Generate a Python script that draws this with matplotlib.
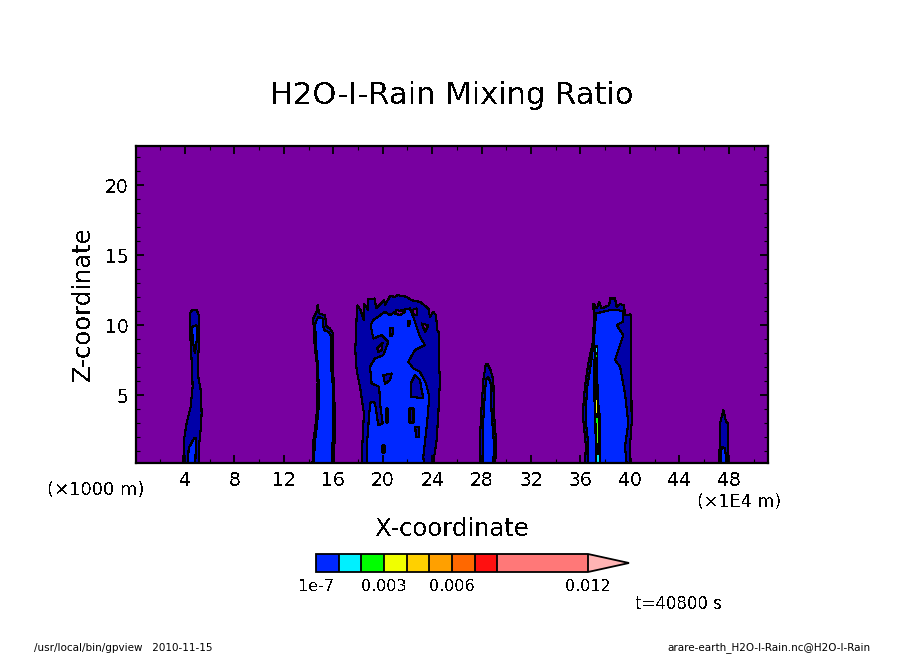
import matplotlib
matplotlib.use("Agg")
import matplotlib.pyplot as plt
from matplotlib.colors import ListedColormap, BoundaryNorm
from matplotlib.cm import ScalarMappable

plt.rcParams['font.family'] = 'DejaVu Sans'
plt.rcParams['text.antialiased'] = False

# contour outlines: x in 1E4 m, z in km
t1_outer_x = [3.87, 3.92, 4.13, 4.46, 4.62, 4.57, 4.46, 4.40, 4.59, 4.94, 5.13, 5.16, 5.05, 5.08, 5.27, 5.35, 5.27, 5.13, 5.16]
t1_outer_z = [0.14, 1.78, 2.97, 4.16, 5.59, 7.02, 8.69, 10.83, 11.07, 11.07, 10.71, 8.92, 7.50, 6.31, 5.35, 3.69, 2.50, 1.30, 0.14]
t1_low_x = [4.24, 4.30, 4.73, 4.89, 4.84]
t1_low_z = [0.14, 1.19, 1.90, 1.90, 0.14]
t1_up_x = [4.59, 4.94, 4.99, 4.81, 4.62]
t1_up_z = [9.88, 9.99, 9.16, 7.97, 8.92]

t2_outer_x = [14.32, 14.38, 14.54, 14.70, 14.73, 14.65, 14.49, 14.38, 14.65, 14.73, 14.86, 15.32, 15.46, 15.73, 16.00, 15.94, 16.08, 16.13, 16.05]
t2_outer_z = [0.14, 1.66, 2.62, 4.05, 5.95, 7.38, 8.57, 10.47, 10.95, 11.43, 10.83, 10.71, 9.88, 9.76, 9.40, 7.38, 5.24, 2.62, 0.14]
t2_inner_x = [14.43, 14.51, 14.65, 14.81, 14.81, 14.73, 14.59, 14.54, 14.78, 15.13, 15.24, 15.59, 15.86, 15.78, 15.94, 16.00, 15.86]
t2_inner_z = [0.14, 1.66, 2.62, 4.05, 5.95, 7.38, 8.57, 10.12, 10.59, 10.47, 9.64, 9.52, 9.16, 7.38, 5.95, 2.62, 0.14]

t3_outer_x = [18.29, 18.37, 18.48, 18.16, 17.89, 17.78, 17.89, 17.94, 18.21, 18.48, 18.48, 18.83, 18.81, 19.37, 19.45, 20.13, 20.18, 20.59, 20.99, 21.18, 21.93, 22.34, 23.01, 23.69, 23.82, 24.09, 24.31, 24.41, 24.58, 24.52, 24.63, 24.50, 24.36, 24.09]
t3_outer_z = [0.14, 1.78, 3.69, 5.59, 6.78, 8.21, 10.59, 11.42, 11.07, 10.35, 11.54, 11.07, 11.83, 11.90, 11.19, 11.78, 11.42, 12.07, 12.02, 12.14, 12.02, 11.78, 11.66, 11.19, 10.59, 10.95, 10.71, 9.64, 9.40, 7.73, 6.07, 3.69, 1.78, 0.14]
t3_inner_x = [18.70, 18.75, 18.91, 19.02, 19.37, 19.64, 20.00, 19.78, 19.72, 19.10, 18.97, 19.37, 20.05, 20.45, 19.91, 19.24, 19.02, 19.24, 20.18, 20.59, 20.99, 22.20, 22.47, 23.01, 23.42, 22.61, 22.07, 22.47, 23.01, 23.50, 23.77, 23.61, 23.28, 23.34]
t3_inner_z = [0.14, 1.78, 3.69, 4.52, 4.45, 2.85, 2.97, 4.40, 5.59, 5.83, 7.02, 7.61, 7.85, 8.80, 9.28, 9.04, 9.99, 10.35, 10.95, 10.71, 10.95, 11.19, 10.59, 9.16, 8.57, 8.21, 7.38, 6.90, 6.66, 5.83, 4.88, 3.21, 0.59, 0.14]

t3_holes = [
    ([20.05, 20.72, 20.59, 20.18], [6.42, 6.54, 6.07, 5.78]),
    ([22.61, 23.01, 23.28, 22.26, 22.26], [6.42, 6.07, 4.76, 4.88, 5.83]),
    ([20.23, 20.37, 20.37, 20.23], [4.04, 4.04, 3.09, 3.09]),
    ([22.12, 22.47, 22.47, 22.12], [4.04, 4.04, 3.09, 3.09]),
    ([22.63, 22.96, 22.90, 22.69], [2.73, 2.73, 1.97, 1.97]),
    ([20.59, 20.85, 20.77, 20.61], [9.76, 9.76, 9.23, 9.23]),
    ([22.04, 22.20, 22.15, 22.01], [10.30, 10.30, 9.92, 9.92]),
    ([19.91, 20.13, 20.13, 19.91], [1.42, 1.42, 0.95, 0.95]),
]
t3_gaps = [
    ([19.56, 19.99, 19.91, 19.64], [8.33, 8.73, 8.21, 8.09]),
    ([20.99, 21.12, 21.80, 21.39], [10.83, 11.07, 10.95, 10.71]),
    ([22.34, 22.74, 22.74, 22.53], [11.07, 11.19, 10.71, 10.71]),
    ([23.15, 23.69, 23.42], [10.11, 9.99, 9.52]),
]

t4_outer_x = [27.87, 27.87, 28.00, 28.14, 28.33, 28.46, 28.73, 28.95, 29.00, 29.16, 29.11]
t4_outer_z = [0.14, 2.02, 4.16, 6.07, 7.14, 7.26, 6.78, 6.07, 3.69, 1.78, 0.14]
t4_inner_x = [28.08, 28.08, 28.19, 28.35, 28.54, 28.73, 28.81, 29.00, 28.95]
t4_inner_z = [0.14, 2.02, 4.16, 6.07, 6.31, 5.83, 3.69, 1.54, 0.14]

t5_outer_x = [36.36, 36.44, 36.23, 36.23, 36.36, 36.63, 36.98, 37.09, 37.04, 37.31, 37.52, 37.71, 38.33, 38.39, 38.79, 38.93, 39.20, 39.52, 39.60, 40.06, 40.09, 40.14, 40.00, 40.06]
t5_outer_z = [0.14, 1.30, 3.21, 4.16, 5.59, 7.26, 8.69, 10.35, 11.54, 11.19, 11.66, 11.19, 11.42, 11.90, 11.90, 11.31, 11.50, 11.42, 10.71, 10.76, 7.73, 3.00, 1.30, 0.14]
t5_inner_x = [36.63, 36.63, 36.44, 36.44, 36.55, 36.77, 37.09, 37.25, 38.39, 39.06, 39.46, 39.41, 38.93, 39.46, 39.20, 38.79, 39.20, 39.60, 39.87, 39.60, 39.73]
t5_inner_z = [0.14, 1.54, 2.97, 4.16, 5.59, 6.78, 8.92, 10.83, 11.07, 11.07, 10.95, 10.23, 9.99, 9.28, 8.57, 7.50, 7.02, 5.11, 2.97, 1.30, 0.14]
t5_core_x = [37.17, 37.36, 37.44, 37.58, 37.58, 37.25, 37.09, 37.09]
t5_core_z = [8.57, 8.57, 4.64, 3.69, 0.14, 0.14, 4.64, 7.50]
t5_strips = [
    ([37.25, 37.33], [8.33, 8.09], '#00f0ff'),
    ([37.25, 37.33], [7.85, 7.69], '#00ff00'),
    ([37.25, 37.33], [4.64, 3.69], '#f0ff00'),
    ([37.25, 37.39], [3.33, 2.97], '#00ff00'),
    ([37.33, 37.42], [2.97, 1.54], '#60ff00'),
    ([37.33, 37.50], [0.71, 0.23], '#00f0ff'),
]

t6_outer_x = [47.23, 47.29, 47.42, 47.56, 47.69, 47.77, 47.91, 47.91]
t6_outer_z = [0.14, 2.97, 3.45, 3.92, 3.45, 3.09, 2.97, 0.14]
t6_inner_x = [47.34, 47.37, 47.50, 47.69, 47.83]
t6_inner_z = [0.14, 1.07, 1.30, 1.19, 0.14]

x_major = [4, 8, 12, 16, 20, 24, 28, 32, 36, 40, 44, 48]
x_minor = [2, 6, 10, 14, 18, 22, 26, 30, 34, 38, 42, 46, 50]
z_major = [5, 10, 15, 20]
z_minor = [1, 2, 3, 4, 6, 7, 8, 9, 11, 12, 13, 14, 16, 17, 18, 19, 21, 22]

cb_levels = [1e-7, 0.001, 0.002, 0.003, 0.004, 0.005, 0.006, 0.007, 0.008, 0.012]
cb_colors = ['#0028ff', '#00f0ff', '#00ff00', '#f0ff00', '#ffd000', '#ffa000', '#ff6800', '#ff1010', '#ff7878']
cb_over = '#ffb4b4'
cb_ticks = [1e-7, 0.003, 0.006, 0.012]
cb_ticklabels = ['1e-7', '0.003', '0.006', '0.012']

purple = '#7800a0'
dark = '#0000a8'
light = '#0028ff'

W, H = 904, 654
fig = plt.figure(figsize=(W / 100, H / 100), dpi=100, facecolor='white')
ax = fig.add_axes([136 / W, 1 - 463 / H, 632 / W, 317 / H])
ax.set_facecolor(purple)


def blob(xs, zs, color):
    ax.fill(xs, zs, facecolor=color, edgecolor='black', linewidth=0.8, antialiased=False)


blob(t1_outer_x, t1_outer_z, dark)
blob(t1_low_x, t1_low_z, light)
blob(t1_up_x, t1_up_z, light)
blob(t2_outer_x, t2_outer_z, dark)
blob(t2_inner_x, t2_inner_z, light)
blob(t3_outer_x, t3_outer_z, dark)
blob(t3_inner_x, t3_inner_z, light)
for hx, hz in t3_holes:
    blob(hx, hz, dark)
for gx, gz in t3_gaps:
    blob(gx, gz, purple)
blob(t4_outer_x, t4_outer_z, dark)
blob(t4_inner_x, t4_inner_z, light)
blob(t5_outer_x, t5_outer_z, dark)
blob(t5_inner_x, t5_inner_z, light)
ax.fill(t5_core_x, t5_core_z, facecolor='black', linewidth=0, antialiased=False)
for sx, sz, c in t5_strips:
    ax.fill([sx[0], sx[1], sx[1], sx[0]], [sz[0], sz[0], sz[1], sz[1]], facecolor=c, linewidth=0, antialiased=False)
blob(t6_outer_x, t6_outer_z, dark)
blob(t6_inner_x, t6_inner_z, light)

ax.set_xlim(0.04, 51.17)
ax.set_ylim(0.14, 22.8)
ax.set_xticks(x_major)
ax.set_xticks(x_minor, minor=True)
ax.set_yticks(z_major)
ax.set_yticks(z_minor, minor=True)
ax.tick_params(which='major', direction='in', top=True, right=True, length=6, width=1.3, labelsize=13.5, pad=5.5)
ax.tick_params(which='minor', direction='in', top=True, right=True, length=3, width=0.8)
for sp in ax.spines.values():
    sp.set_linewidth(1.6)

fig.text(452 / W, 1 - 96 / H, 'H2O-I-Rain Mixing Ratio', ha='center', va='center', fontsize=22)
fig.text(452 / W, 1 - 529 / H, 'X-coordinate', ha='center', va='center', fontsize=17.5)
fig.text(83 / W, 1 - 304 / H, 'Z-coordinate', ha='center', va='center', rotation=90, fontsize=17.5)
fig.text(96 / W, 1 - 490 / H, '(×1000 m)', ha='center', va='center', fontsize=13)
fig.text(739 / W, 1 - 502 / H, '(×1E4 m)', ha='center', va='center', fontsize=12.6)
fig.text(678 / W, 1 - 604 / H, 't=40800 s', ha='center', va='center', fontsize=12)
# the small print loses strokes without antialiasing
fig.text(34 / W, 1 - 648 / H, '/usr/local/bin/gpview   2010-11-15', ha='left', va='center', fontsize=7.5, antialiased=True)
fig.text(871 / W, 1 - 648 / H, 'arare-earth_H2O-I-Rain.nc@H2O-I-Rain', ha='right', va='center', fontsize=7.5, antialiased=True)

# total width includes the extend tip, 41 px on top of the 272 px bar
cax = fig.add_axes([316 / W, 1 - 572 / H, 313 / W, 18 / H])
cmap = ListedColormap(cb_colors).with_extremes(over=cb_over)
norm = BoundaryNorm(cb_levels, len(cb_colors), extend='neither')
cb = fig.colorbar(ScalarMappable(norm=norm, cmap=cmap), cax=cax, orientation='horizontal',
                  extend='max', extendfrac=41 / 272, spacing='proportional', drawedges=True)
cb.set_ticks(cb_ticks)
cb.set_ticklabels(cb_ticklabels)
cb.minorticks_off()
cb.ax.tick_params(length=0, labelsize=11.5, pad=5)
cb.outline.set_linewidth(1.3)
cb.dividers.set_linewidth(1.3)
cb.dividers.set_color('black')

fig.savefig('out.png', dpi=100)
